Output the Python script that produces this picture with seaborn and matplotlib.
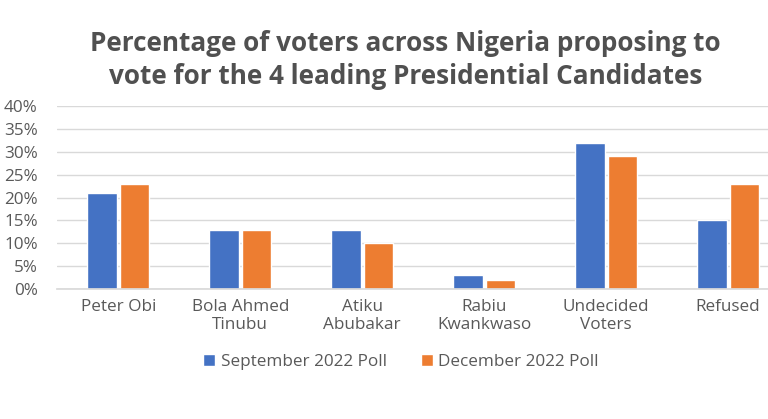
import numpy as np
import pandas as pd
import matplotlib
matplotlib.use("Agg")
import matplotlib.pyplot as plt
import seaborn as sns
from matplotlib.ticker import PercentFormatter

candidates = ["Peter Obi", "Bola Ahmed\nTinubu", "Atiku\nAbubakar", "Rabiu\nKwankwaso",
              "Undecided\nVoters", "Refused"]
sept_2022 = [21, 13, 13, 3, 32, 15]
dec_2022 = [23, 13, 10, 2, 29, 23]
series_names = ["September 2022 Poll", "December 2022 Poll"]
y_ticks = [0, 5, 10, 15, 20, 25, 30, 35, 40]

df = pd.DataFrame({
    "candidate": candidates * 2,
    "poll": [series_names[0]] * len(candidates) + [series_names[1]] * len(candidates),
    "pct": sept_2022 + dec_2022,
})

sns.set_theme(style="white")
plt.rcParams['font.family'] = ['Open Sans', 'DejaVu Sans']
text_col = "#595959"

fig = plt.figure(figsize=(7.68, 4.19), dpi=100)
ax = fig.add_axes([0.0745, 0.31, 0.953, 0.437])

sns.barplot(data=df, x="candidate", y="pct", hue="poll", ax=ax,
            palette=["#4472C4", "#ED7D31"], width=0.53, gap=0.1,
            saturation=1, legend=True)

ax.set_ylim(0, 40)
ax.set_yticks(y_ticks)
ax.yaxis.set_major_formatter(PercentFormatter(decimals=0))
ax.set_xlim(-0.5, len(candidates) - 0.5)
ax.grid(axis="y", color="#D9D9D9", linewidth=1)
ax.set_axisbelow(True)
for s in ["top", "right", "left"]:
    ax.spines[s].set_visible(False)
ax.spines["bottom"].set_color("#D9D9D9")
ax.set_xlabel("")
ax.set_ylabel("")
ax.tick_params(axis="both", length=0, labelsize=12.3, labelcolor=text_col)
ax.tick_params(axis="y", pad=14)
ax.tick_params(axis="x", pad=7)

ax.legend(loc="center", ncol=2, frameon=False, fontsize=12.3, labelcolor=text_col,
          handlelength=0.7, handleheight=0.7, handletextpad=0.3, columnspacing=2.0)
ax.get_legend().set_bbox_to_anchor((0.522, 0.135), transform=fig.transFigure)

fig.text(0.528, 0.857, "Percentage of voters across Nigeria proposing to\nvote for the 4 leading Presidential Candidates",
         ha="center", va="center", fontsize=18.8, fontweight="bold", color="#505050",
         linespacing=1.25)

fig.savefig("out.png", dpi=100)
